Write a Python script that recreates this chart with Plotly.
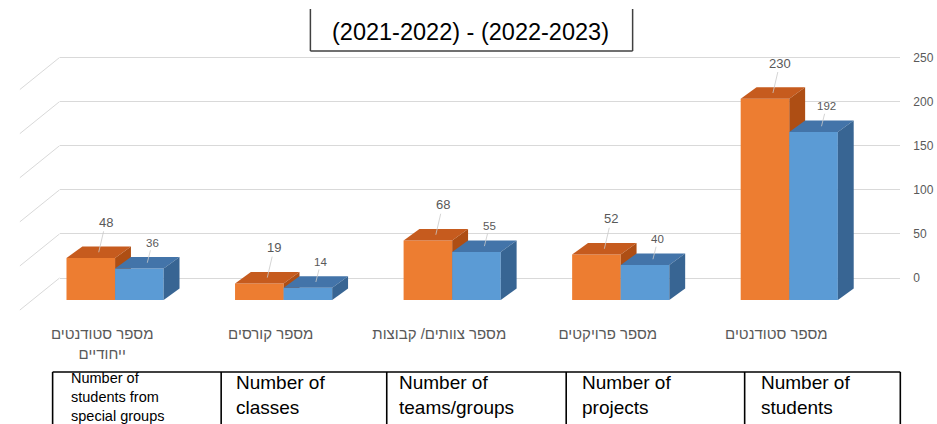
import plotly.graph_objects as go

# ---------------- data ----------------
categories_he = [
    "מספר סטודנטים<br>ייחודיים",
    "מספר קורסים",
    "מספר צוותים/ קבוצות",
    "מספר פרויקטים",
    "מספר סטודנטים",
]
table_labels = [
    "Number of<br>students from<br>special groups",
    "Number of<br>classes",
    "Number of<br>teams/groups",
    "Number of<br>projects",
    "Number of<br>students",
]
values_2022_2023 = [48, 19, 68, 52, 230]   # orange series
values_2021_2022 = [36, 14, 55, 40, 192]   # blue series
wall_ticks = [0, 50, 100, 150, 200, 250]
title_text = "(2021-2022) - (2022-2023)"

# ---------------- layout constants (pixels) ----------------
W, H = 937, 424
DOM_X0, DOM_X1 = 52, 900          # back-wall gridline span
CAT_STEP = 170                    # px between categories
FIRST_CENTER = 108                # px of first orange/blue boundary
FRONT_ZERO, FRONT_SCALE = 300, 0.875
WALL_ZERO, WALL_SCALE = 278, 0.882
BAR_W_PX = 49
DEPTH_DX_PX, DEPTH_DY_PX = 16, 11.5
LABEL_SHIFT_PX = 13

ORANGE = dict(front="#ED7D31", top="#C65B1E", side="#AE4E14")
BLUE = dict(front="#5B9BD5", top="#4374A9", side="#386593")
GREY_TXT = "#595959"
GRID = "#d9d9d9"
CHART_FONT = "Liberation Sans, DejaVu Sans, Arial, sans-serif"

# derived axis ranges
xr0 = -(FIRST_CENTER - DOM_X0) / CAT_STEP
xr1 = xr0 + (DOM_X1 - DOM_X0) / CAT_STEP
front_lo = -(H - FRONT_ZERO) / FRONT_SCALE
front_rng = [front_lo, front_lo + H / FRONT_SCALE]
wall_lo = -(H - WALL_ZERO) / WALL_SCALE
wall_rng = [wall_lo, wall_lo + H / WALL_SCALE]

bw = BAR_W_PX / CAT_STEP
ddx = DEPTH_DX_PX / CAT_STEP
ddy = DEPTH_DY_PX / FRONT_SCALE

idx = list(range(len(categories_he)))

fig = go.Figure()


def add_series(values, offset, colors, yaxis, name):
    fig.add_trace(go.Bar(
        x=idx, y=values, width=bw, offset=offset, name=name,
        marker=dict(color=colors["front"], line=dict(width=0)),
        yaxis=yaxis, showlegend=False, hoverinfo="skip"))
    for i, v in zip(idx, values):
        xl = i + offset
        xr = xl + bw
        fig.add_trace(go.Scatter(
            x=[xl, xr, xr + ddx, xl + ddx, xl],
            y=[v, v, v + ddy, v + ddy, v],
            fill="toself", fillcolor=colors["top"], mode="lines",
            line=dict(width=0, color=colors["top"]),
            yaxis=yaxis, showlegend=False, hoverinfo="skip"))
        fig.add_trace(go.Scatter(
            x=[xr, xr, xr + ddx, xr + ddx, xr],
            y=[0, v, v + ddy, ddy, 0],
            fill="toself", fillcolor=colors["side"], mode="lines",
            line=dict(width=0, color=colors["side"]),
            yaxis=yaxis, showlegend=False, hoverinfo="skip"))


add_series(values_2022_2023, -bw, ORANGE, "y2", "2022-2023")
add_series(values_2021_2022, 0.0, BLUE, "y3", "2021-2022")

annotations = []
# data labels with leader lines
for vals, offset, yref, ax, ay, size in [
    (values_2022_2023, -bw, "y2", 7, -30, 13),
    (values_2021_2022, 0.0, "y3", 5, -20, 11.5),
]:
    for i, v in zip(idx, vals):
        annotations.append(dict(
            x=i + offset + bw / 2 + ddx / 2, y=v + ddy / 2,
            xref="x", yref=yref, text=str(v), showarrow=True,
            arrowhead=0, arrowwidth=0.8, arrowcolor="#c9c9c9",
            ax=ax, ay=ay, standoff=0,
            font=dict(size=size, color=GREY_TXT, family=CHART_FONT)))

# title
annotations.append(dict(
    x=466 / W, y=1 - 32 / H, xref="paper", yref="paper",
    text=title_text, showarrow=False, xanchor="center", yanchor="middle",
    font=dict(size=23.5, color="black", family="Liberation Sans, Arial")))

# table texts
table_text_x = [62, 228, 392, 577, 757]
table_sizes = [14.5, 19, 19, 19, 19]
table_mid_y = [397, 395, 395, 395, 395]
for t, tx, ts, ty in zip(table_labels, table_text_x, table_sizes, table_mid_y):
    annotations.append(dict(
        x=tx / W, y=1 - ty / H, xref="paper", yref="paper", text=t,
        showarrow=False, xanchor="left", yanchor="middle", align="left",
        font=dict(size=ts, color="black", family="Liberation Sans, Arial")))

shapes = []
# title box
box_col = "#404040"
for (x0, y0, x1, y1) in [(305, 9, 305, 51), (305, 51, 630, 51), (630, 9, 630, 51)]:
    shapes.append(dict(type="line", xref="paper", yref="paper",
                       x0=x0 / W, x1=x1 / W, y0=1 - y0 / H, y1=1 - y1 / H,
                       line=dict(color=box_col, width=1.5)))
# table borders
table_cols = [45, 215, 382, 563, 743, 900]
TABLE_TOP = 372
shapes.append(dict(type="line", xref="paper", yref="paper",
                   x0=table_cols[0] / W, x1=table_cols[-1] / W,
                   y0=1 - TABLE_TOP / H, y1=1 - TABLE_TOP / H,
                   line=dict(color="black", width=1.6)))
for cx in table_cols:
    shapes.append(dict(type="line", xref="paper", yref="paper",
                       x0=cx / W, x1=cx / W, y0=1 - TABLE_TOP / H, y1=-0.05,
                       line=dict(color="black", width=1.6)))
# perspective stubs of the back-wall gridlines
stub_dy = 32 / WALL_SCALE
for v in wall_ticks:
    shapes.append(dict(type="line", xref="paper", yref="y",
                       x0=12 / W, x1=DOM_X0 / W, y0=v - stub_dy, y1=v,
                       line=dict(color=GRID, width=1), layer="below"))

fig.update_layout(
    width=W, height=H, margin=dict(l=0, r=0, t=0, b=0),
    paper_bgcolor="white", plot_bgcolor="white",
    barmode="overlay", showlegend=False,
    annotations=annotations, shapes=shapes,
    xaxis=dict(domain=[DOM_X0 / W, DOM_X1 / W], range=[xr0, xr1],
               tickmode="array",
               tickvals=[i - LABEL_SHIFT_PX / CAT_STEP for i in idx],
               ticktext=categories_he, showgrid=False, zeroline=False,
               showline=False, ticks="", anchor="free",
               position=1 - 323 / H,
               tickfont=dict(size=15, color=GREY_TXT, family=CHART_FONT)),
    yaxis=dict(domain=[0, 1], range=wall_rng, side="right", anchor="x",
               tickmode="array", tickvals=wall_ticks, showgrid=True,
               gridcolor=GRID, gridwidth=1, zeroline=False, showline=False,
               ticks="", ticklabelstandoff=12,
               tickfont=dict(size=12, color=GREY_TXT, family=CHART_FONT)),
    yaxis2=dict(overlaying="y", range=front_rng, visible=False, anchor="x"),
    yaxis3=dict(overlaying="y", range=front_rng, visible=False, anchor="x"),
)

fig.write_html("out.html")
